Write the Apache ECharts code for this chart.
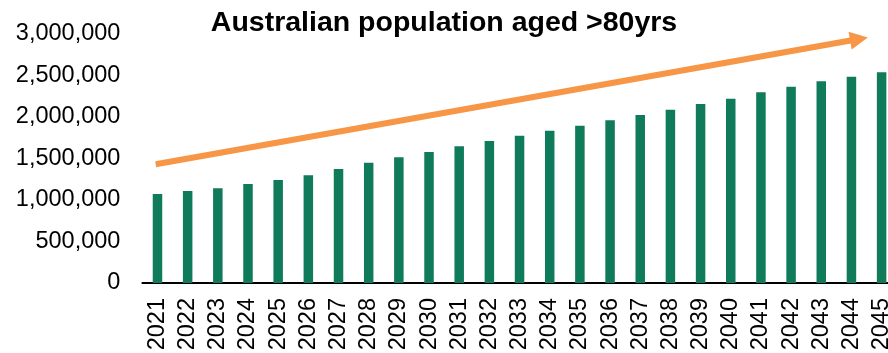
<!DOCTYPE html>
<html>
<head>
<meta charset="utf-8">
<style>
  html, body { margin: 0; padding: 0; background: #ffffff; }
  #chart { width: 888px; height: 353px; }
</style>
<script src="https://cdn.jsdelivr.net/npm/echarts@6/dist/echarts.min.js"></script>
</head>
<body>
<div id="chart"></div>
<script>
// Years shown along the x-axis
const years = ['2021','2022','2023','2024','2025','2026','2027','2028','2029','2030',
               '2031','2032','2033','2034','2035','2036','2037','2038','2039','2040',
               '2041','2042','2043','2044','2045'];

// Projected number of Australians aged over 80
const population = [1072000, 1108000, 1141000, 1193000, 1241000, 1297000, 1373000, 1450000, 1514000, 1578000,
                    1647000, 1711000, 1775000, 1835000, 1895000, 1960000, 2024000, 2088000, 2157000, 2221000,
                    2297000, 2365000, 2430000, 2486000, 2538000];

// Value axis range and step
const yMin = 0;
const yMax = 3000000;
const yStep = 500000;

const FONT = "'Liberation Sans', Arial, sans-serif";

const chart = echarts.init(document.getElementById('chart'), null, { renderer: 'canvas' });

chart.setOption({
  animation: false,
  backgroundColor: '#ffffff',
  title: {
    text: 'Australian population aged >80yrs',
    left: 'center',
    top: 4,
    textStyle: { fontFamily: FONT, fontSize: 28.5, fontWeight: 'bold', color: '#000000' }
  },
  // The plot area runs past the right edge, so the last year is partly cut off
  grid: { left: 142.4, top: 34, width: 754.3, height: 249, containLabel: false, outerBoundsMode: 'none' },
  xAxis: {
    type: 'category',
    data: years,
    axisLine: { show: true, lineStyle: { color: '#000000', width: 2 } },
    axisTick: { show: false },
    axisLabel: {
      rotate: 90, interval: 0, margin: 15,
      fontFamily: FONT, fontSize: 23.5, color: '#000000'
    }
  },
  yAxis: {
    type: 'value',
    min: yMin, max: yMax, interval: yStep,
    axisLine: { show: false },
    axisTick: { show: false },
    splitLine: { show: false },
    axisLabel: {
      margin: 22, fontFamily: FONT, fontSize: 23.5, color: '#000000',
      formatter: v => v.toLocaleString('en-US')
    }
  },
  series: [{
    type: 'bar',
    data: population,
    barWidth: 9.5,
    itemStyle: { color: '#107B5A' },
    silent: true,
    // Upward trend arrow drawn over the bars
    markLine: {
      silent: true,
      symbol: ['none', 'triangle'],
      symbolSize: 18,
      label: { show: false },
      lineStyle: { color: '#F79646', width: 6, type: 'solid' },
      emphasis: { disabled: true },
      data: [[{ x: 155.7, y: 164.3 }, { x: 859, y: 39 }]]
    }
  }]
});
</script>
</body>
</html>
